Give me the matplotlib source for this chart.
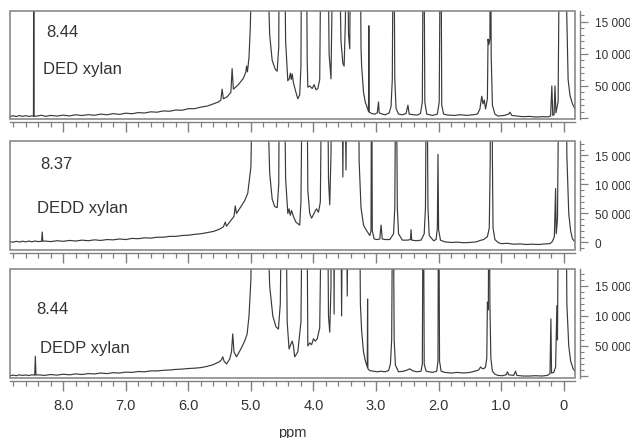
import numpy as np
import matplotlib.pyplot as plt
from matplotlib.patches import Rectangle
from matplotlib.ticker import MultipleLocator, FixedLocator, FixedFormatter

plt.rcParams['font.family'] = ['Liberation Sans', 'DejaVu Sans']

# ---- spectra (ppm, intensity in thousands) ----
ded_ppm = [8.85, 8.80, 8.75, 8.70, 8.65, 8.60, 8.55, 8.50, 8.475, 8.47, 8.465, 8.42, 8.35, 8.28, 8.20,
           8.10, 8.00, 7.90, 7.80, 7.70, 7.60, 7.50, 7.40, 7.30, 7.20, 7.10, 7.00, 6.90, 6.80, 6.70,
           6.60, 6.50, 6.40, 6.30, 6.20, 6.10, 6.00, 5.90, 5.80, 5.70, 5.60, 5.52, 5.48, 5.46, 5.44,
           5.38, 5.32, 5.30, 5.28, 5.20, 5.12, 5.08, 5.07, 5.055, 5.03, 5.01, 4.99, 4.97, 4.85, 4.75,
           4.72, 4.70, 4.66, 4.61, 4.58, 4.555, 4.54, 4.505, 4.475, 4.445, 4.41, 4.385, 4.37, 4.355,
           4.34, 4.32, 4.28, 4.25, 4.22, 4.20, 4.185, 4.12, 4.10, 4.09, 4.06, 4.02, 3.99, 3.96, 3.93,
           3.90, 3.87, 3.78, 3.75, 3.72, 3.70, 3.69, 3.61, 3.56, 3.53, 3.51, 3.49, 3.47, 3.44, 3.42,
           3.40, 3.26, 3.24, 3.23, 3.20, 3.17, 3.15, 3.12, 3.115, 3.11, 3.07, 3.02, 2.98, 2.96, 2.95,
           2.90, 2.85, 2.79, 2.76, 2.74, 2.72, 2.70, 2.68, 2.64, 2.58, 2.52, 2.49, 2.47, 2.40, 2.34,
           2.29, 2.26, 2.24, 2.22, 2.19, 2.10, 2.02, 1.99, 1.965, 1.95, 1.92, 1.85, 1.75, 1.65, 1.55,
           1.45, 1.38, 1.34, 1.31, 1.29, 1.27, 1.25, 1.22, 1.21, 1.195, 1.18, 1.17, 1.16, 1.14, 1.10,
           1.05, 0.95, 0.88, 0.86, 0.83, 0.75, 0.65, 0.55, 0.45, 0.35, 0.25, 0.21, 0.19, 0.175, 0.155,
           0.14, 0.125, 0.09, 0.06, 0.00, -0.02, -0.04, -0.07, -0.10, -0.14, -0.18]
ded_int = [2.0, 3.5, 2.2, 3.8, 2.5, 3.6, 2.4, 3.4, 2.8, 400, 2.6, 3.0, 4.2, 2.6, 4.0,
           3.0, 4.4, 3.2, 5.0, 3.8, 5.2, 4.2, 6.0, 5.0, 6.8, 5.6, 7.5, 6.6, 8.4, 7.8,
           9.6, 9.0, 11, 10.5, 12.5, 12, 14.5, 14.5, 17, 18.5, 22, 25, 28, 45, 30,
           33, 40, 77, 45, 52, 62, 72, 81, 72, 95, 140, 220, 600, 1500, 600,
           200, 130, 90, 76, 73, 110, 400, 260, 400, 120, 58, 62, 70, 60,
           69, 55, 40, 30, 36, 80, 400, 400, 90, 48, 50, 46, 52, 44, 46,
           60, 400, 400, 100, 61, 200, 400, 400, 120, 85, 81, 150, 400, 130, 108,
           400, 400, 110, 81, 40, 24, 19, 10, 144, 9, 7, 6, 8, 25, 8,
           6, 5, 8, 18, 60, 400, 60, 15, 6, 5, 7, 20, 6, 5, 4.5,
           7, 25, 400, 25, 6, 4, 6, 25, 400, 20, 6, 4.5, 4, 5, 4,
           5, 6, 14, 34, 22, 28, 14, 30, 123, 115, 123, 400, 100, 20, 6,
           3, 4, 6, 9, 4, 3, 2, 2.5, 1.5, 2, 1.8, 3, 50, 4, 5,
           50, 8, 25, 400, 400, 400, 200, 60, 35, 22, 14]

dedd_ppm = [8.85, 8.80, 8.75, 8.70, 8.65, 8.60, 8.55, 8.50, 8.45, 8.40, 8.345, 8.335, 8.325, 8.30, 8.20,
            8.10, 8.00, 7.90, 7.80, 7.70, 7.60, 7.50, 7.40, 7.30, 7.20, 7.10, 7.00, 6.90, 6.80, 6.70,
            6.60, 6.50, 6.40, 6.30, 6.20, 6.10, 6.00, 5.90, 5.80, 5.70, 5.60, 5.50, 5.44, 5.41, 5.39,
            5.32, 5.27, 5.25, 5.23, 5.16, 5.10, 5.05, 5.00, 4.98, 4.96, 4.85, 4.75, 4.72, 4.70, 4.66,
            4.62, 4.58, 4.555, 4.54, 4.505, 4.475, 4.445, 4.41, 4.39, 4.37, 4.35, 4.32, 4.28, 4.22,
            4.20, 4.17, 4.11, 4.09, 4.06, 4.03, 4.00, 3.97, 3.95, 3.92, 3.89, 3.86, 3.78, 3.76, 3.74,
            3.72, 3.70, 3.58, 3.55, 3.53, 3.51, 3.48, 3.46, 3.29, 3.27, 3.24, 3.20, 3.16, 3.10, 3.08,
            3.07, 3.06, 3.03, 2.98, 2.94, 2.92, 2.90, 2.85, 2.78, 2.72, 2.70, 2.68, 2.66, 2.64, 2.58,
            2.50, 2.45, 2.44, 2.43, 2.36, 2.28, 2.23, 2.21, 2.19, 2.17, 2.15, 2.08, 2.04, 2.02, 2.01,
            2.00, 1.97, 1.90, 1.80, 1.70, 1.60, 1.50, 1.40, 1.32, 1.28, 1.22, 1.19, 1.175, 1.165, 1.15,
            1.14, 1.13, 1.10, 1.05, 1.00, 0.90, 0.80, 0.70, 0.60, 0.50, 0.40, 0.30, 0.22, 0.18, 0.15,
            0.13, 0.12, 0.10, 0.07, -0.03, -0.05, -0.08, -0.11, -0.14, -0.18]
dedd_int = [1.5, 0.5, 2, 0.8, 2.2, 1, 2.4, 1.2, 2.5, 1.5, 2, 18, 2, 2.5, 1.5,
            3, 2, 3.5, 2.5, 4, 3, 4.5, 3.5, 5, 4.5, 6, 5, 7, 6.5, 8,
            7.5, 9, 9, 10.5, 10.5, 12, 12.5, 14, 15, 17, 19, 23, 27, 35, 28,
            38, 45, 63, 50, 62, 72, 85, 130, 250, 600, 1500, 600, 200, 120, 75,
            62, 60, 100, 400, 250, 400, 110, 50, 58, 47, 55, 45, 35, 30,
            70, 400, 400, 90, 50, 42, 48, 55, 58, 52, 70, 400, 400, 110, 65,
            150, 400, 400, 400, 113, 400, 125, 400, 400, 140, 60, 30, 22, 12, 20,
            400, 20, 6, 5, 6, 30, 6, 5, 5, 15, 60, 400, 60, 15, 4,
            4, 5, 22, 4, 3, 4, 15, 60, 400, 60, 12, 3, 5, 25, 152,
            22, 4, 1, 0, 0.5, -0.5, 0, 1, 4, 5, 10, 25, 143, 400, 400,
            143, 25, 5, 0, -2, -1.5, -3, -2.5, -3.5, -3, -3.5, -2.5, -2, 2, 10,
            93, 15, 40, 400, 400, 150, 50, 20, 6, 1]

dedp_ppm = [8.85, 8.80, 8.75, 8.70, 8.65, 8.60, 8.55, 8.50, 8.455, 8.445, 8.435, 8.40, 8.30, 8.20, 8.10,
            8.00, 7.90, 7.80, 7.70, 7.60, 7.50, 7.40, 7.30, 7.20, 7.10, 7.00, 6.90, 6.80, 6.70, 6.60,
            6.50, 6.40, 6.30, 6.20, 6.10, 6.00, 5.90, 5.80, 5.70, 5.60, 5.50, 5.47, 5.45, 5.43, 5.39,
            5.34, 5.31, 5.29, 5.27, 5.23, 5.16, 5.10, 5.06, 5.03, 5.00, 4.98, 4.96, 4.85, 4.75, 4.72,
            4.70, 4.65, 4.60, 4.56, 4.53, 4.50, 4.475, 4.45, 4.42, 4.39, 4.365, 4.34, 4.32, 4.30, 4.25,
            4.20, 4.17, 4.11, 4.09, 4.06, 4.03, 4.00, 3.97, 3.94, 3.90, 3.86, 3.78, 3.76, 3.74, 3.72,
            3.71, 3.68, 3.67, 3.66, 3.57, 3.55, 3.53, 3.48, 3.46, 3.44, 3.27, 3.25, 3.23, 3.20, 3.17,
            3.14, 3.135, 3.13, 3.10, 3.04, 2.98, 2.92, 2.86, 2.80, 2.77, 2.75, 2.73, 2.71, 2.69, 2.64,
            2.56, 2.50, 2.46, 2.42, 2.35, 2.28, 2.26, 2.245, 2.23, 2.20, 2.10, 2.03, 2.01, 2.00, 1.985,
            1.96, 1.90, 1.80, 1.70, 1.60, 1.50, 1.42, 1.36, 1.33, 1.31, 1.28, 1.25, 1.23, 1.22, 1.205,
            1.195, 1.18, 1.165, 1.14, 1.10, 1.05, 0.98, 0.92, 0.90, 0.88, 0.80, 0.77, 0.75, 0.65, 0.55,
            0.45, 0.35, 0.26, 0.22, 0.205, 0.195, 0.16, 0.13, 0.11, 0.10, 0.08, -0.03, -0.05, -0.08,
            -0.11, -0.15, -0.18]
dedp_int = [0.5, 1.5, 0.5, 2, 1, 1.8, 0.8, 2, 1.5, 33, 1.5, 2, 1, 2.5, 1.5,
            3, 2, 3.5, 2.5, 4, 3.5, 5, 4, 5.5, 5, 6.5, 6, 7.5, 7, 8.5,
            8.5, 9.5, 10, 11, 11.5, 12.5, 13, 14, 16, 19, 24, 27, 32, 25, 20,
            28, 40, 70, 40, 32, 45, 58, 70, 100, 160, 300, 600, 1500, 600, 220,
            150, 100, 82, 78, 120, 400, 260, 400, 90, 45, 52, 58, 50, 32, 40,
            90, 400, 400, 50, 55, 52, 62, 58, 62, 80, 400, 400, 100, 73, 150,
            400, 400, 103, 400, 400, 100, 400, 400, 133, 400, 400, 120, 75, 40, 25,
            15, 128, 12, 9, 8, 7, 8, 7, 9, 20, 60, 400, 60, 18, 7,
            8, 10, 12, 9, 7, 8, 20, 400, 20, 8, 6, 8, 25, 400, 25,
            8, 6, 5, 6, 5, 6, 8, 10, 15, 13, 12, 15, 30, 123, 110,
            400, 120, 30, 8, 3, 1, 0.5, 2, 7, 2, 1, 8, 1, 0, 0,
            0.5, 0, 1, 4, 95, 5, 6, 15, 117, 60, 400, 400, 120, 50,
            25, 12, 8]

labels_val = ['8.44', '8.37', '8.44']
labels_name = ['DED xylan', 'DEDD xylan', 'DEDP xylan']
spectra = [(ded_ppm, ded_int), (dedd_ppm, dedd_int), (dedp_ppm, dedp_int)]
ylims = [(-1600, 167000), (-13000, 175000), (-3300, 178000)]
ytick_vals = [0, 50000, 100000, 150000]
ytick_txt = [['', '50 000', '10 000', '15 000'],
             ['0', '50 000', '10 000', '15 000'],
             ['', '50 000', '10 000', '15 000']]
xticks = [8, 7, 6, 5, 4, 3, 2, 1, 0]
xtick_txt = ['8.0', '7.0', '6.0', '5.0', '4.0', '3.0', '2.0', '1.0', '0']

W, H = 630, 439
fig = plt.figure(figsize=(W / 100, H / 100), dpi=100)
fig.patch.set_facecolor('white')

# panel boxes in pixels: (top, bottom)
panels = [(12, 120), (142, 251), (270, 379)]
left_px, right_px = 10, 575
name_pos = [((0.065, 0.806), (0.058, 0.463)),
            ((0.053, 0.789), (0.048, 0.394)),
            ((0.047, 0.642), (0.053, 0.284))]

line_c = '#3a3a3a'
frame_c = '#808080'
txt_c = '#333333'

for i, (top, bot) in enumerate(panels):
    ax = fig.add_axes([left_px / W, 1 - bot / H, (right_px - left_px) / W, (bot - top) / H])
    ppm, inten = spectra[i]
    ax.plot(ppm, np.array(inten) * 1000, color=line_c, lw=0.85)
    ax.set_xlim(8.85, -0.18)
    ax.set_ylim(*ylims[i])

    for s in ['top', 'left']:
        ax.spines[s].set_visible(False)
    ax.spines['bottom'].set_position(('outward', 2.2))
    ax.spines['right'].set_position(('outward', 3.3))
    for s in ['bottom', 'right']:
        ax.spines[s].set_color(frame_c)
        ax.spines[s].set_linewidth(1.0)
    ax.add_patch(Rectangle((0, 0), 1, 1, transform=ax.transAxes, fill=False,
                           ec=frame_c, lw=1.1, clip_on=False, zorder=5))

    ax.xaxis.set_major_locator(FixedLocator(xticks))
    ax.xaxis.set_minor_locator(MultipleLocator(0.2))
    if i == 2:
        ax.xaxis.set_major_formatter(FixedFormatter(xtick_txt))
    else:
        ax.set_xticklabels([])
    ax.tick_params(axis='x', which='major', direction='out', length=7.5, width=1.0,
                   color=frame_c, labelsize=10.5, labelcolor=txt_c, pad=5)
    ax.tick_params(axis='x', which='minor', direction='out', length=3.5, width=0.9, color=frame_c)

    ax.yaxis.tick_right()
    ax.yaxis.set_major_locator(FixedLocator(ytick_vals))
    ax.yaxis.set_major_formatter(FixedFormatter(ytick_txt[i]))
    ax.yaxis.set_minor_locator(MultipleLocator(10000))
    ax.tick_params(axis='y', which='major', direction='out', length=5.8, width=0.9,
                   color=frame_c, labelsize=8.5, labelcolor=txt_c, pad=5)
    ax.tick_params(axis='y', which='minor', direction='out', length=2.9, width=0.8, color=frame_c)

    (vx, vy), (nx, ny) = name_pos[i]
    ax.text(vx, vy, labels_val[i], transform=ax.transAxes, fontsize=12, color=txt_c, va='center', ha='left')
    ax.text(nx, ny, labels_name[i], transform=ax.transAxes, fontsize=12, color=txt_c, va='center', ha='left')

    if i == 2:
        ax.set_xlabel('ppm', fontsize=10.5, color=txt_c, labelpad=9)

fig.savefig('out.png', dpi=100, facecolor='white')
